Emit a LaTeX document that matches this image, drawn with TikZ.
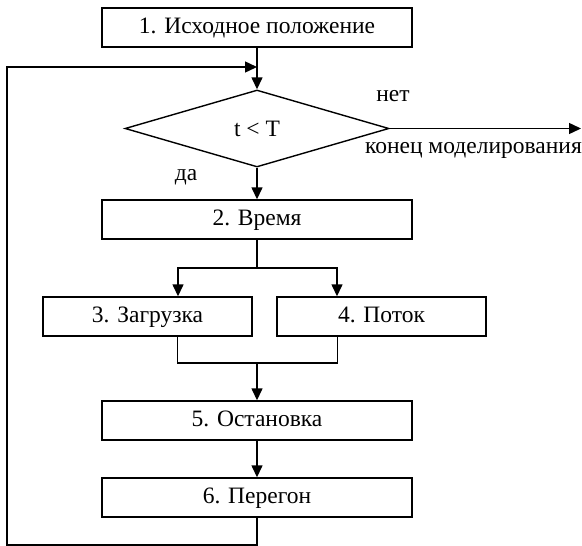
\documentclass[tikz,border=0pt]{standalone}
\usepackage{fontspec}
\setmainfont{Liberation Serif}
\usetikzlibrary{arrows.meta,shapes.geometric}
\tikzset{
  txt/.style={font=\fontsize{23.5}{26}\selectfont},
  blk/.style={txt, draw, line width=1.4pt, minimum width=310pt, minimum height=39pt, inner sep=0pt, text height=15pt, text depth=4pt},
  sblk/.style={blk, minimum width=209pt},
  dec/.style={txt, draw, line width=1.4pt, shape=diamond, aspect=3.43, minimum width=264pt, minimum height=77pt, inner sep=0pt},
  lbl/.style={txt, inner sep=0pt},
  ln/.style={line width=1.4pt},
  arr/.style={ln, -{Triangle[length=12pt,width=11pt]}}
}
\begin{document}
\begin{tikzpicture}[x=1pt,y=-1pt]
\useasboundingbox (0,0) rectangle (582,546);
\node[blk] (b1) at (257,27.5) {1. Исходное положение};
\node[dec] (dia) at (257,128.5) {t < T};
\node[blk] (b2) at (257,219.5) {2. Время};
\node[sblk] (b3) at (147.5,316.5) {3. Загрузка};
\node[sblk] (b4) at (381.5,316.5) {4. Поток};
\node[blk] (b5) at (257,420.5) {5. Остановка};
\node[blk] (b6) at (257,497.5) {6. Перегон};
\node[lbl] (no) at (393,96) {нет};
\node[lbl, anchor=east] (end) at (582,150) {конец моделирования};
\node[lbl] (yes) at (186,177) {да};
\coordinate (endpt) at (581,128.5);
\coordinate (loopin) at (b1.south |- 0,67);
\coordinate (lb) at (7,545);
\coordinate (lt) at (7,67);
\coordinate (split) at (b2.south |- 0,268);
\coordinate (in3) at ([xshift=30.5pt]b3.north);
\coordinate (in4) at ([xshift=-44.5pt]b4.north);
\coordinate (out3) at ([xshift=30pt]b3.south);
\coordinate (out4) at ([xshift=-44pt]b4.south);
\coordinate (merge) at (b5.north |- 0,363);
% connectors
\draw[arr] (b1.south) -- (dia.north);
\draw[arr] (b6.south) |- (lb) -- (lt) -- (loopin);
\draw[arr] (dia.east) -- (endpt);
\draw[arr] (dia.south) -- (b2.north);
\draw[ln] (b2.south) -- (split);
\draw[arr] (split) -| (in3);
\draw[arr] (split) -| (in4);
\draw[ln] (out3) |- (merge) -| (out4);
\draw[arr] (merge) -- (b5.north);
\draw[arr] (b5.south) -- (b6.north);
\end{tikzpicture}
\end{document}
